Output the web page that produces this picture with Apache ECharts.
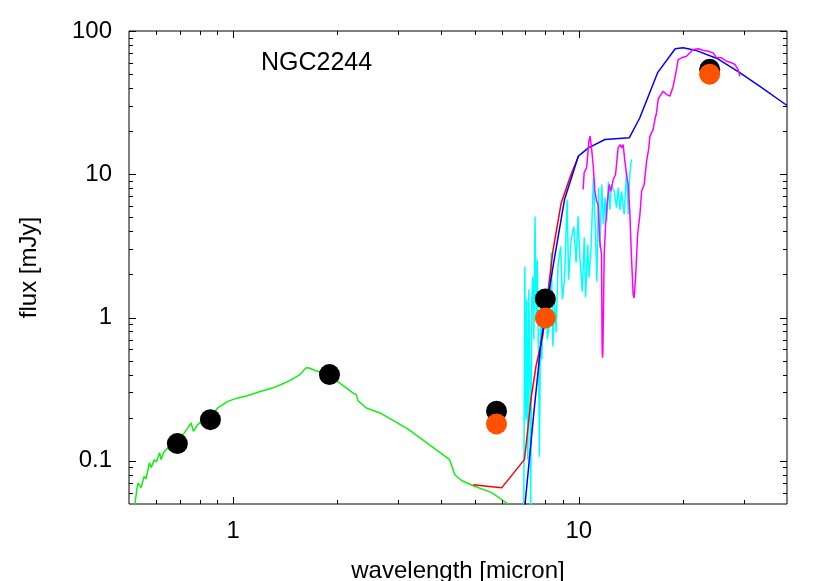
<!DOCTYPE html>
<html>
<head>
<meta charset="utf-8">
<script src="https://cdn.jsdelivr.net/npm/echarts/dist/echarts.min.js"></script>
<style>
  html, body { margin: 0; padding: 0; background: #fff; }
  #chart { width: 830px; height: 581px; }
</style>
</head>
<body>
<div id="chart"></div>
<script>
// axis ranges (micron, mJy)
const X_MIN = 0.5, X_MAX = 40;
const Y_MIN = 0.05, Y_MAX = 100;

const xMajorTicks = [1, 10];
const xMinorTicks = [0.6, 0.7, 0.8, 0.9, 2, 3, 4, 5, 6, 7, 8, 9, 20, 30];
const yMajorTicks = [0.1, 1, 10, 100];
const yMinorTicks = [0.06, 0.07, 0.08, 0.09, 0.2, 0.3, 0.4, 0.5, 0.6, 0.7, 0.8, 0.9,
  2, 3, 4, 5, 6, 7, 8, 9, 20, 30, 40, 50, 60, 70, 80, 90];

// stellar photosphere model (green)
const starModel = [
  [0.505, 0.045], [0.520, 0.050], [0.530, 0.070], [0.542, 0.065], [0.553, 0.078], [0.560, 0.075],
  [0.573, 0.097], [0.580, 0.090], [0.592, 0.102], [0.600, 0.098], [0.613, 0.114], [0.619, 0.102],
  [0.630, 0.115], [0.647, 0.123], [0.660, 0.118], [0.689, 0.132], [0.720, 0.155], [0.740, 0.170],
  [0.756, 0.184], [0.768, 0.161], [0.785, 0.175], [0.799, 0.184], [0.830, 0.195], [0.860, 0.200],
  [0.903, 0.234], [0.930, 0.245], [0.965, 0.260], [1.032, 0.275], [1.10, 0.285], [1.205, 0.306],
  [1.30, 0.322], [1.377, 0.341], [1.45, 0.360], [1.505, 0.379], [1.56, 0.400], [1.627, 0.446],
  [1.66, 0.445], [1.72, 0.429], [1.90, 0.395], [2.05, 0.345], [2.22, 0.298], [2.27, 0.290],
  [2.30, 0.262], [2.32, 0.254], [2.43, 0.234], [2.66, 0.216], [3.20, 0.167], [4.23, 0.102],
  [4.38, 0.080], [4.58, 0.073], [4.95, 0.067], [5.60, 0.060], [6.24, 0.050], [6.40, 0.047]
];

// star + disk model (red)
const diskModelRed = [
  [4.95, 0.068], [5.60, 0.066], [5.98, 0.0648], [6.96, 0.102], [7.05, 0.133], [7.27, 0.27],
  [7.52, 0.46], [7.87, 0.75], [8.14, 1.5], [8.41, 2.9], [8.89, 6.3], [9.5, 10.0], [9.97, 13.3]
];

// disk model (blue)
const diskModelBlue = [
  [6.95, 0.045], [6.99, 0.05], [7.41, 0.216], [7.79, 0.70], [8.42, 2.27], [9.09, 6.66], [9.5, 9.3],
  [9.97, 13.4], [10.66, 15.3], [11.9, 17.5], [14.0, 18.0], [15.0, 24.7], [16.9, 51.2], [19.0, 75.1],
  [20.0, 76.4], [21.9, 73.0], [25.1, 64.3], [29.2, 51.2], [33.4, 41.0], [40.0, 30.2]
];

// IRS short-low spectrum (cyan)
const irsShort = [
  [6.93, 0.045], [6.98, 2.27], [7.03, 0.194], [7.07, 1.34], [7.12, 0.102], [7.17, 1.57], [7.22, 0.369],
  [7.26, 0.045], [7.31, 1.34], [7.36, 1.93], [7.41, 0.703], [7.47, 5.07], [7.53, 0.969], [7.58, 2.54],
  [7.66, 0.369], [7.69, 0.107], [7.76, 1.34], [7.82, 0.51], [7.87, 1.45], [7.97, 0.825], [8.03, 1.57],
  [8.11, 0.703], [8.23, 0.923], [8.32, 2.84], [8.41, 0.628], [8.51, 1.34], [8.60, 0.786], [8.70, 2.27],
  [8.86, 3.13], [8.96, 1.34], [9.09, 1.84], [9.25, 6.66], [9.34, 1.84], [9.50, 3.50], [9.67, 4.32],
  [9.82, 2.42], [9.95, 5.1], [10.07, 2.62], [10.23, 1.52], [10.37, 3.62], [10.46, 1.38], [10.61, 3.23],
  [10.70, 1.90], [10.85, 3.08], [11.02, 9.49], [11.15, 4.46], [11.28, 1.78], [11.40, 8.08], [11.50, 3.08],
  [11.65, 8.48], [11.78, 4.46], [11.91, 6.88], [12.04, 4.68], [12.18, 8.90], [12.29, 5.65], [12.43, 8.48],
  [12.66, 7.58], [12.86, 5.86], [13.00, 8.08], [13.14, 5.65], [13.29, 7.58], [13.52, 5.24], [13.74, 10.45],
  [13.90, 5.24], [14.04, 9.96], [14.19, 12.7]
];

// IRS long-low spectrum (magenta)
const irsLong = [
  [10.29, 7.83], [10.36, 10.24], [10.53, 11.09], [10.69, 17.0], [10.78, 18.44], [10.88, 15.3], [11.00, 11.7],
  [11.13, 7.62], [11.25, 6.49], [11.37, 6.15], [11.50, 3.41], [11.63, 2.75], [11.68, 0.6], [11.71, 0.524],
  [11.74, 0.6], [11.84, 2.75], [11.95, 4.46], [12.07, 6.15], [12.24, 8.48], [12.38, 7.62], [12.57, 9.15],
  [12.77, 9.96], [12.99, 15.3], [13.17, 16.1], [13.29, 15.3], [13.43, 16.1], [13.59, 12.3], [13.74, 9.96],
  [13.89, 8.48], [14.04, 5.52], [14.20, 2.61], [14.36, 1.45], [14.45, 1.37], [14.59, 1.89], [14.79, 3.80],
  [15.02, 5.24], [15.19, 7.62], [15.45, 8.48], [15.70, 12.3], [15.94, 15.3], [16.05, 18.4], [16.40, 20.5],
  [16.59, 24.1], [16.78, 26.9], [16.96, 33.3], [17.15, 35.1], [17.54, 38.0], [17.94, 36.0], [18.34, 35.1],
  [18.74, 41.2], [19.08, 51.1], [19.38, 63.2], [19.82, 65.0], [20.49, 66.7], [20.95, 70.4], [21.41, 74.3],
  [22.14, 75.1], [22.89, 73.4], [23.66, 72.3], [24.46, 70.4], [25.02, 65.0], [25.87, 65.0], [26.74, 61.5],
  [27.65, 60.0], [28.27, 58.4], [28.89, 53.8], [29.22, 48.3]
];

// photometry
const photBlack = [[0.69, 0.132], [0.86, 0.194], [1.90, 0.400], [5.78, 0.222], [8.0, 1.35], [23.9, 54]];
const photOrange = [[5.78, 0.181], [8.0, 0.995], [23.9, 50]];

const FONT = 'Liberation Sans';

const isPow10 = v => Math.abs(Math.log10(v) - Math.round(Math.log10(v))) < 1e-6;

// tick marks drawn inside the frame on both sides, gnuplot style
const xTickData = xMajorTicks.map(v => [v, Y_MIN, 7]).concat(xMinorTicks.map(v => [v, Y_MIN, 4]));
const yTickData = yMajorTicks.map(v => [X_MIN, v, 7]).concat(yMinorTicks.map(v => [X_MIN, v, 4]));

const tickStyle = { stroke: '#000', lineWidth: 1 };

function renderXTick(params, api) {
    const v = api.value(0), len = api.value(2);
    const b = api.coord([v, Y_MIN]);
    const t = api.coord([v, Y_MAX]);
    const x = Math.round(b[0]) + 0.5;
    return {
        type: 'group',
        children: [
            { type: 'line', shape: { x1: x, y1: b[1], x2: x, y2: b[1] - len }, style: tickStyle },
            { type: 'line', shape: { x1: x, y1: t[1], x2: x, y2: t[1] + len }, style: tickStyle }
        ]
    };
}

function renderYTick(params, api) {
    const v = api.value(1), len = api.value(2);
    const l = api.coord([X_MIN, v]);
    const r = api.coord([X_MAX, v]);
    const y = Math.round(l[1]) + 0.5;
    return {
        type: 'group',
        children: [
            { type: 'line', shape: { x1: l[0], y1: y, x2: l[0] + len, y2: y }, style: tickStyle },
            { type: 'line', shape: { x1: r[0], y1: y, x2: r[0] - len, y2: y }, style: tickStyle }
        ]
    };
}

const lineSeries = (data, color, width) => ({
    type: 'line',
    data: data,
    showSymbol: false,
    symbol: 'none',
    lineStyle: { color: color, width: width },
    clip: true,
    silent: true
});

const chart = echarts.init(document.getElementById('chart'), null, { renderer: 'canvas' });

chart.setOption({
    animation: false,
    backgroundColor: '#fff',
    textStyle: { fontFamily: FONT },
    title: {
        text: 'NGC2244',
        left: 261,
        top: 51,
        padding: 0,
        textStyle: { fontFamily: FONT, fontSize: 25, fontWeight: 'normal', color: '#000' }
    },
    grid: {
        left: 129,
        right: 43,
        top: 31,
        bottom: 77,
        outerBoundsMode: 'none',
        containLabel: false,
        show: true,
        borderColor: '#000',
        borderWidth: 1,
        backgroundColor: 'transparent'
    },
    xAxis: {
        type: 'log',
        logBase: 10,
        min: X_MIN,
        max: X_MAX,
        name: 'wavelength [micron]',
        nameLocation: 'middle',
        nameGap: 55,
        nameTextStyle: { fontFamily: FONT, fontSize: 24, color: '#000' },
        axisLine: { show: false },
        axisTick: { show: false },
        splitLine: { show: false },
        axisLabel: {
            fontFamily: FONT,
            fontSize: 24,
            color: '#000',
            margin: 15,
            formatter: v => isPow10(v) ? String(+v.toPrecision(3)) : ''
        }
    },
    yAxis: {
        type: 'log',
        logBase: 10,
        min: Y_MIN,
        max: Y_MAX,
        name: 'flux [mJy]',
        nameLocation: 'middle',
        nameGap: 88,
        nameTextStyle: { fontFamily: FONT, fontSize: 24, color: '#000' },
        axisLine: { show: false },
        axisTick: { show: false },
        splitLine: { show: false },
        axisLabel: {
            fontFamily: FONT,
            fontSize: 24,
            color: '#000',
            margin: 17,
            formatter: v => isPow10(v) ? String(+v.toPrecision(3)) : ''
        }
    },
    series: [
        lineSeries(irsShort, '#00ffff', 1.5),
        lineSeries(starModel, '#11ee11', 1.5),
        lineSeries(diskModelRed, '#ff0000', 1.5),
        lineSeries(diskModelBlue, '#0000ff', 1.5),
        lineSeries(irsLong, '#ff00ff', 1.5),
        {
            type: 'scatter',
            data: photBlack,
            symbol: 'circle',
            symbolSize: 21,
            itemStyle: { color: '#000', opacity: 1 },
            silent: true,
            z: 5
        },
        {
            type: 'scatter',
            data: photOrange,
            symbol: 'circle',
            symbolSize: 21,
            itemStyle: { color: '#ff5200', opacity: 1 },
            silent: true,
            z: 6
        },
        {
            type: 'custom',
            data: xTickData,
            renderItem: renderXTick,
            silent: true,
            z: 10
        },
        {
            type: 'custom',
            data: yTickData,
            renderItem: renderYTick,
            silent: true,
            z: 10
        }
    ]
});
</script>
</body>
</html>
